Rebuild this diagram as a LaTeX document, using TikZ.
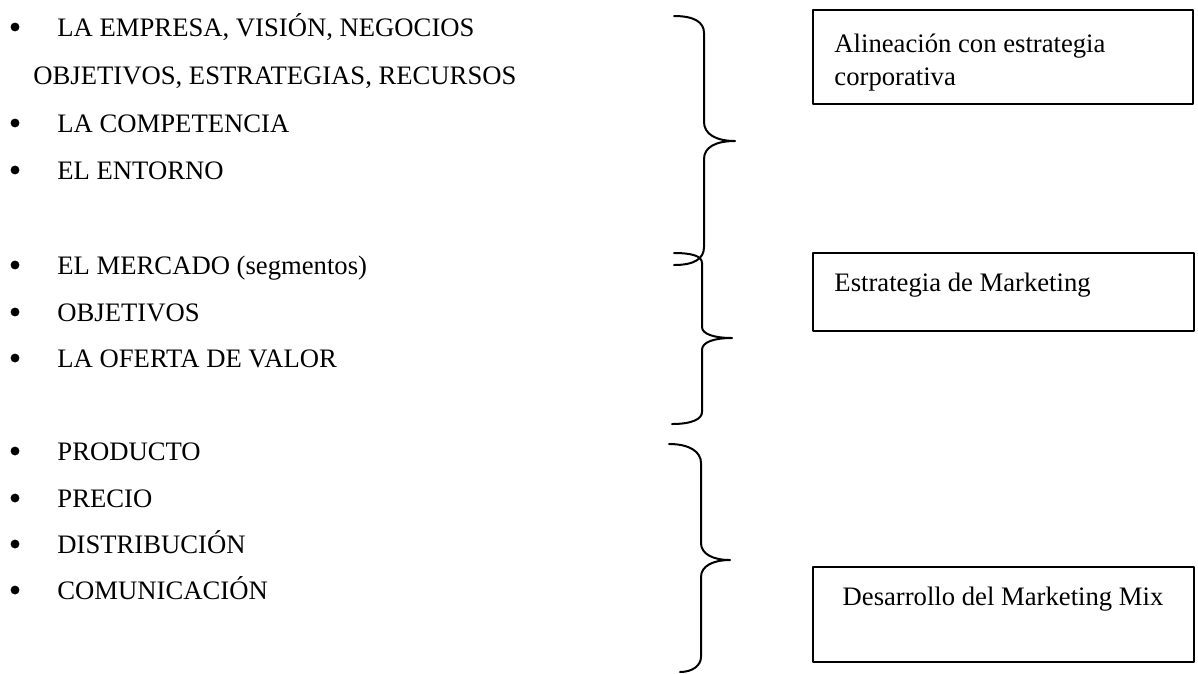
\documentclass[tikz,border=0pt]{standalone}
\usepackage{fontspec}
\setmainfont{Liberation Serif}
\tikzset{
  item/.style={anchor=base west,inner sep=0pt,font=\fontsize{12}{14.85}\selectfont},
  bracepath/.style={line width=0.9pt},
  boxpath/.style={line width=0.8pt},
}

\begin{document}
\begin{tikzpicture}[line cap=round,line join=round,x=0.45pt,y=-0.45pt]
        \useasboundingbox (0,0) rectangle (1198,673);
        % first block
        \fill (15,27) circle (2pt);
        \node[item] (empresa) at (57,36) {LA EMPRESA, VISIÓN, NEGOCIOS};
        \node[item] (objest) at (33,84) {OBJETIVOS, ESTRATEGIAS, RECURSOS};
        \fill (15,123) circle (2pt);
        \node[item] (competencia) at (57,132) {LA COMPETENCIA};
        \fill (15,170) circle (2pt);
        \node[item] (entorno) at (57,179) {EL ENTORNO};
        % second block
        \fill (15,265) circle (2pt);
        \node[item] (mercado) at (57,274) {EL MERCADO (segmentos)};
        \fill (15,312) circle (2pt);
        \node[item] (objetivos) at (57,321) {OBJETIVOS};
        \fill (15,358) circle (2pt);
        \node[item] (oferta) at (57,367) {LA OFERTA DE VALOR};
        % third block
        \fill (15,451) circle (2pt);
        \node[item] (producto) at (57,460) {PRODUCTO};
        \fill (15,498) circle (2pt);
        \node[item] (precio) at (57,507) {PRECIO};
        \fill (15,544) circle (2pt);
        \node[item] (distribucion) at (57,553) {DISTRIBUCIÓN};
        \fill (15,590) circle (2pt);
        \node[item] (comunicacion) at (57,599) {COMUNICACIÓN};
        % braces
        \draw[bracepath] (674,16) .. controls (694,16) and (704,22) .. (704,33) -- (704,122)
            .. controls (704,134) and (716,141) .. (735,141)
            .. controls (716,141) and (704,147) .. (704,159) -- (704,247)
            .. controls (704,259) and (694,265) .. (674,265);
        \draw[bracepath] (674,253) .. controls (692,253) and (702,256) .. (702,263) -- (702,327)
            .. controls (702,334) and (714,338) .. (732,338)
            .. controls (714,338) and (702,342) .. (702,350) -- (702,412)
            .. controls (702,419) and (692,424) .. (672,424);
        \draw[bracepath] (669,444) .. controls (690,444) and (701,452) .. (701,463) -- (701,543)
            .. controls (701,554) and (713,560) .. (730,560)
            .. controls (713,560) and (701,566) .. (701,577) -- (701,657)
            .. controls (701,665) and (693,672) .. (680,672);
        % boxes
        \draw[boxpath] (813,10) rectangle (1193,104);
        \node[item,align=left] (alineacion) at (834,85) {Alineación con estrategia\\corporativa};
        \draw[boxpath] (813,253) rectangle (1194,331);
        \node[item] (estrategia) at (834,291) {Estrategia de Marketing};
        \draw[boxpath] (813,567) rectangle (1194,662);
        \node[item,anchor=base] (mix) at (1003,605) {Desarrollo del Marketing Mix};
\end{tikzpicture}
\end{document}
